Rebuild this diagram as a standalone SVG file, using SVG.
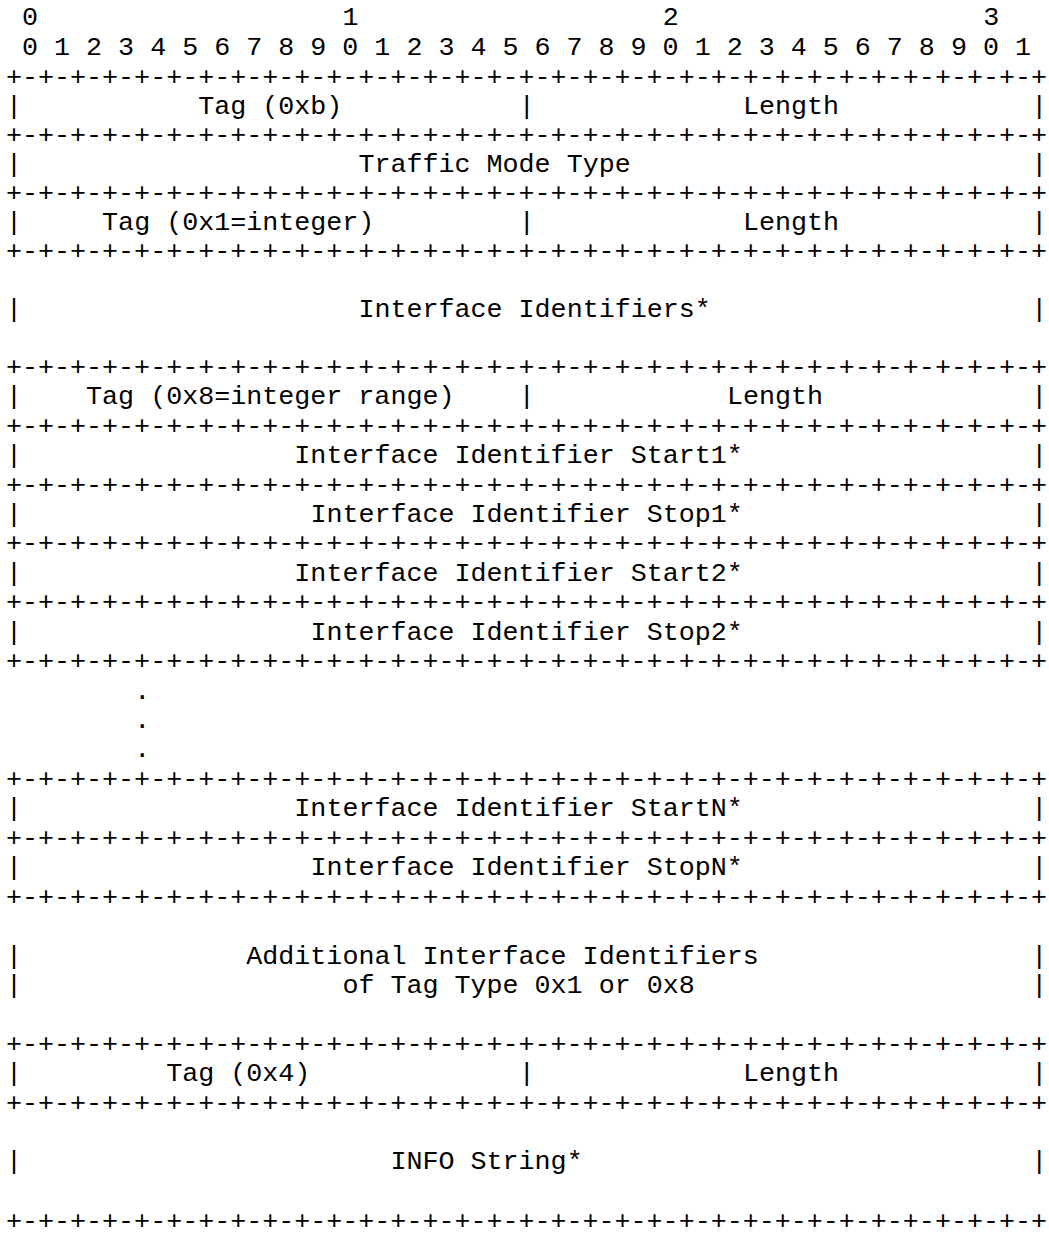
<svg xmlns="http://www.w3.org/2000/svg" width="1049" height="1237" viewBox="0 0 1049 1237" xml:space="preserve">
<style>
text { font-family: "Liberation Mono", "Courier New", monospace; font-size: 26.7px; fill: #000; white-space: pre; }
</style>
<defs>
<text id="border" x="6">+-+-+-+-+-+-+-+-+-+-+-+-+-+-+-+-+-+-+-+-+-+-+-+-+-+-+-+-+-+-+-+-+</text>
</defs>
<rect width="1049" height="1237" fill="#fff"/>
<g id="ruler">
<text x="22.02" y="24.7">0</text>
<text x="342.42" y="24.7">1</text>
<text x="662.82" y="24.7">2</text>
<text x="983.22" y="24.7">3</text>
<text x="22.02" y="54.7">0 1 2 3 4 5 6 7 8 9 0 1 2 3 4 5 6 7 8 9 0 1 2 3 4 5 6 7 8 9 0 1</text>
</g>
<g id="borders">
<use href="#border" y="85.3"/>
<use href="#border" y="143"/>
<use href="#border" y="200.7"/>
<use href="#border" y="258.7"/>
<use href="#border" y="374.7"/>
<use href="#border" y="433.6"/>
<use href="#border" y="492.5"/>
<use href="#border" y="551.3"/>
<use href="#border" y="610.2"/>
<use href="#border" y="669.1"/>
<use href="#border" y="786.9"/>
<use href="#border" y="845.7"/>
<use href="#border" y="904.6"/>
<use href="#border" y="1051.8"/>
<use href="#border" y="1110.6"/>
<use href="#border" y="1228.5"/>
</g>
<g id="tag-0xb">
<text x="6" y="114">|</text>
<text x="198.24" y="114">Tag (0xb)</text>
<text x="518.64" y="114">|</text>
</g>
<g id="length-1">
<text x="742.92" y="114">Length</text>
<text x="1031.28" y="114">|</text>
</g>
<g id="traffic-mode-type">
<text x="6" y="172">|</text>
<text x="358.44" y="172">Traffic Mode Type</text>
<text x="1031.28" y="172">|</text>
</g>
<g id="tag-0x1">
<text x="6" y="229.7">|</text>
<text x="102.12" y="229.7">Tag (0x1=integer)</text>
<text x="518.64" y="229.7">|</text>
</g>
<g id="length-2">
<text x="742.92" y="229.7">Length</text>
<text x="1031.28" y="229.7">|</text>
</g>
<g id="interface-identifiers">
<text x="6" y="316.7">|</text>
<text x="358.44" y="316.7">Interface Identifiers*</text>
<text x="1031.28" y="316.7">|</text>
</g>
<g id="tag-0x8">
<text x="6" y="404.1">|</text>
<text x="86.1" y="404.1">Tag (0x8=integer range)</text>
<text x="518.64" y="404.1">|</text>
</g>
<g id="length-3">
<text x="726.9" y="404.1">Length</text>
<text x="1031.28" y="404.1">|</text>
</g>
<g id="start1">
<text x="6" y="463">|</text>
<text x="294.36" y="463">Interface Identifier Start1*</text>
<text x="1031.28" y="463">|</text>
</g>
<g id="stop1">
<text x="6" y="521.9">|</text>
<text x="310.38" y="521.9">Interface Identifier Stop1*</text>
<text x="1031.28" y="521.9">|</text>
</g>
<g id="start2">
<text x="6" y="580.8">|</text>
<text x="294.36" y="580.8">Interface Identifier Start2*</text>
<text x="1031.28" y="580.8">|</text>
</g>
<g id="stop2">
<text x="6" y="639.7">|</text>
<text x="310.38" y="639.7">Interface Identifier Stop2*</text>
<text x="1031.28" y="639.7">|</text>
</g>
<g id="ellipsis">
<text x="134.16" y="698.5">.</text>
<text x="134.16" y="728">.</text>
<text x="134.16" y="757.4">.</text>
</g>
<g id="startN">
<text x="6" y="816.3">|</text>
<text x="294.36" y="816.3">Interface Identifier StartN*</text>
<text x="1031.28" y="816.3">|</text>
</g>
<g id="stopN">
<text x="6" y="875.2">|</text>
<text x="310.38" y="875.2">Interface Identifier StopN*</text>
<text x="1031.28" y="875.2">|</text>
</g>
<g id="additional">
<text x="6" y="963.5">|</text>
<text x="246.3" y="963.5">Additional Interface Identifiers</text>
<text x="1031.28" y="963.5">|</text>
<text x="6" y="993">|</text>
<text x="342.42" y="993">of Tag Type 0x1 or 0x8</text>
<text x="1031.28" y="993">|</text>
</g>
<g id="tag-0x4">
<text x="6" y="1081.2">|</text>
<text x="166.2" y="1081.2">Tag (0x4)</text>
<text x="518.64" y="1081.2">|</text>
</g>
<g id="length-4">
<text x="742.92" y="1081.2">Length</text>
<text x="1031.28" y="1081.2">|</text>
</g>
<g id="info-string">
<text x="6" y="1169.4">|</text>
<text x="390.48" y="1169.4">INFO String*</text>
<text x="1031.28" y="1169.4">|</text>
</g>
</svg>
